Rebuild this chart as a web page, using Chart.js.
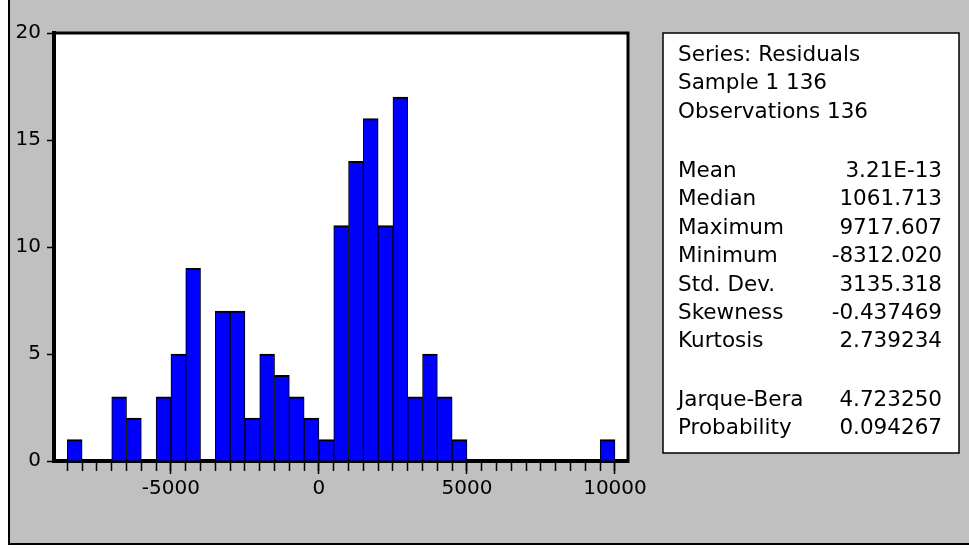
<!DOCTYPE html>
<html>
<head>
<meta charset="utf-8">
<title>Histogram - Residuals</title>
<script src="https://cdn.jsdelivr.net/npm/chart.js@4.4.1/dist/chart.umd.min.js"></script>
<style>
    html, body { margin: 0; padding: 0; background: #ffffff; }
    #wrap { position: relative; width: 969px; height: 548px; }
</style>
</head>
<body>
<div id="wrap"><canvas id="histChart" width="969" height="548"></canvas></div>
<script>
// Histogram bins: 500 wide, the first one starts at -8500
const binStart = -8500;
const binWidth = 500;
const counts = [1, 0, 0, 3, 2, 0, 3, 5, 9, 0, 7, 7, 2, 5, 4, 3, 2, 1,
    11, 14, 16, 11, 17, 3, 5, 3, 1, 0, 0, 0, 0, 0, 0, 0, 0, 0, 1];

// Axis ticks
const majorTicks = [-5000, 0, 5000, 10000];
const majorLabels = ['-5000', '0', '5000', '10000'];
const yTicks = [0, 5, 10, 15, 20];

// Descriptive statistics box
const statHeader = ['Series: Residuals', 'Sample 1 136', 'Observations 136'];
const statNames = ['Mean', 'Median', 'Maximum', 'Minimum', 'Std. Dev.', 'Skewness', 'Kurtosis'];
const statValues = ['3.21E-13', '1061.713', '9717.607', '-8312.020', '3135.318', '-0.437469', '2.739234'];
const testNames = ['Jarque-Bera', 'Probability'];
const testValues = ['4.723250', '0.094267'];

(function() {
    const FONT = '"DejaVu Sans", "Liberation Sans", sans-serif';
    Chart.defaults.font.family = FONT;
    Chart.defaults.color = '#000000';

    // bar centres + minor tick positions (every bin edge)
    const barData = counts.map((c, i) => ({ x: binStart + binWidth * i + binWidth / 2, y: c }));
    const minorTicks = [];
    for (let i = 0; i <= counts.length; i++) minorTicks.push(binStart + binWidth * i);

    const X_MIN = -8950;
    const X_MAX = 10440;

    // gray window, white plot area, frame lines
    const backdrop = {
        id: 'backdrop',
        beforeDraw(chart) {
            const { ctx, chartArea: a } = chart;
            ctx.save();
            ctx.fillStyle = '#ffffff';
            ctx.fillRect(0, 0, chart.width, chart.height);
            ctx.fillStyle = '#c0c0c0';
            ctx.fillRect(10, 0, chart.width - 10, 543);
            ctx.fillStyle = '#000000';
            ctx.fillRect(8, 0, 2, 545);
            ctx.fillRect(8, 543, chart.width - 8, 2);
            ctx.fillStyle = '#ffffff';
            ctx.fillRect(a.left, a.top, a.right - a.left, a.bottom - a.top);
            ctx.restore();
        },
        afterDraw(chart) {
            const { ctx, chartArea: a } = chart;
            ctx.save();
            ctx.strokeStyle = '#000000';
            ctx.lineWidth = 3;
            ctx.beginPath();
            ctx.moveTo(a.left - 2, a.top);
            ctx.lineTo(a.right, a.top);
            ctx.lineTo(a.right, a.bottom + 2);
            ctx.stroke();
            ctx.restore();
        }
    };

    // the statistics panel on the right
    const statsBox = {
        id: 'statsBox',
        afterDraw(chart) {
            const ctx = chart.ctx;
            const left = 663, top = 33, right = 959, bottom = 453;
            const textX = 678, valueX = 942;
            const step = 28.4;
            ctx.save();
            ctx.fillStyle = '#ffffff';
            ctx.fillRect(left, top, right - left, bottom - top);
            ctx.strokeStyle = '#000000';
            ctx.lineWidth = 1.5;
            ctx.strokeRect(left, top, right - left, bottom - top);
            ctx.font = '21.5px ' + FONT;
            ctx.fillStyle = '#000000';
            ctx.textBaseline = 'middle';

            ctx.textAlign = 'left';
            statHeader.forEach((t, i) => ctx.fillText(t, textX, 55.5 + step * i));

            statNames.forEach((t, i) => {
                const y = 171.5 + step * i;
                ctx.textAlign = 'left';
                ctx.fillText(t, textX, y);
                ctx.textAlign = 'right';
                ctx.fillText(statValues[i], valueX, y);
            });

            testNames.forEach((t, i) => {
                const y = 400 + step * i;
                ctx.textAlign = 'left';
                ctx.fillText(t, textX, y);
                ctx.textAlign = 'right';
                ctx.fillText(testValues[i], valueX, y);
            });
            ctx.restore();
        }
    };

    new Chart(document.getElementById('histChart'), {
        type: 'bar',
        data: {
            datasets: [{
                label: 'Residuals',
                data: barData,
                backgroundColor: '#0000ff',
                borderColor: '#000000',
                borderWidth: { top: 2, left: 1, right: 1, bottom: 0 },
                barPercentage: 1,
                categoryPercentage: 1
            }]
        },
        options: {
            responsive: false,
            animation: false,
            events: [],
            layout: { padding: { left: 0, top: 33, right: 341, bottom: 0 } },
            plugins: {
                legend: { display: false },
                tooltip: { enabled: false }
            },
            scales: {
                // minor ticks at every bin edge, carries the axis line
                x: {
                    type: 'linear',
                    position: 'bottom',
                    min: X_MIN,
                    max: X_MAX,
                    offset: false,
                    weight: 0,
                    z: 1,
                    afterBuildTicks: s => { s.ticks = minorTicks.map(v => ({ value: v })); },
                    afterFit: s => { s.height = 0; },
                    ticks: { display: false },
                    grid: { offset: false, drawOnChartArea: false, tickLength: 10, tickWidth: 1.5, tickColor: '#000000' },
                    border: { display: true, color: '#000000', width: 4 }
                },
                // longer ticks + labels every 5000
                xMajor: {
                    type: 'linear',
                    position: 'bottom',
                    min: X_MIN,
                    max: X_MAX,
                    offset: false,
                    weight: 1,
                    z: 1,
                    afterBuildTicks: s => { s.ticks = majorTicks.map(v => ({ value: v })); },
                    afterFit: s => { s.height = 87; },
                    ticks: {
                        autoSkip: false,
                        maxRotation: 0,
                        padding: 3,
                        font: { size: 20 },
                        color: '#000000',
                        callback: (v, i) => majorLabels[i]
                    },
                    grid: { offset: false, drawOnChartArea: false, tickLength: 13, tickWidth: 1.5, tickColor: '#000000' },
                    border: { display: false }
                },
                y: {
                    min: 0,
                    max: 20,
                    z: 1,
                    afterBuildTicks: s => { s.ticks = yTicks.map(v => ({ value: v })); },
                    afterFit: s => { s.width = 54; },
                    ticks: { padding: 6, font: { size: 20 }, color: '#000000' },
                    grid: { drawOnChartArea: false, tickLength: 7, tickWidth: 1.5, tickColor: '#000000' },
                    border: { display: true, color: '#000000', width: 4 }
                }
            }
        },
        plugins: [backdrop, statsBox]
    });
})();
</script>
</body>
</html>
